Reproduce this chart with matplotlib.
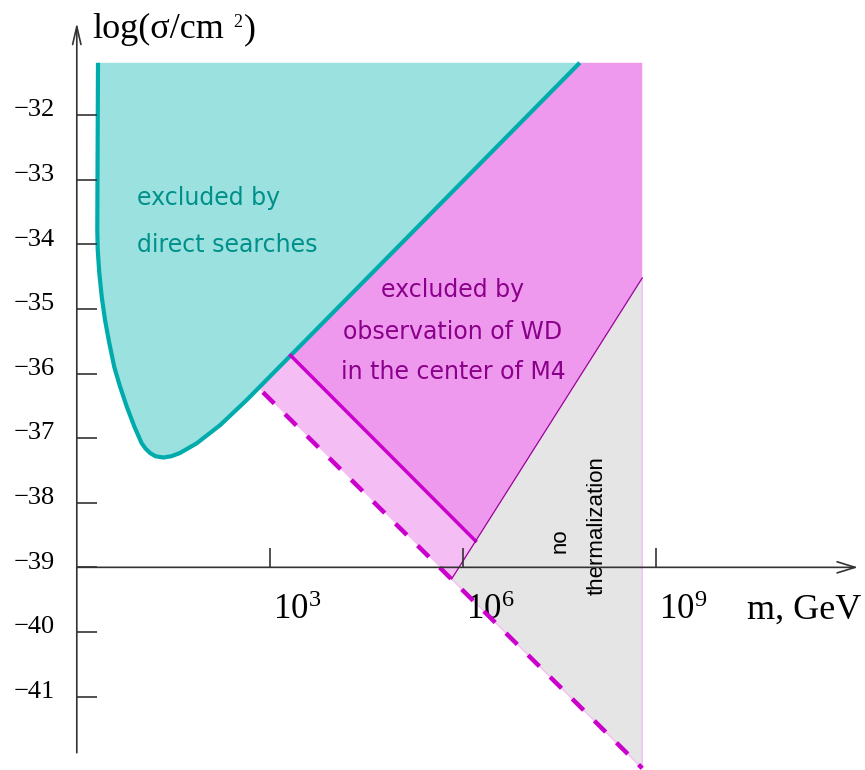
import matplotlib
matplotlib.use("Agg")
import matplotlib.pyplot as plt

# --- Data (log10 m in GeV, log10 sigma in cm^2) ---
# direct searches exclusion boundary
cyan_x = [0.329, 0.318, 0.325, 0.349, 0.387, 0.438, 0.505, 0.582, 0.671, 0.775,
          0.893, 1.008, 1.066, 1.137, 1.220, 1.343, 1.470, 1.602, 1.862, 2.224, 2.638, 7.81]
cyan_y = [-31.19, -33.78, -34.09, -34.44, -34.81, -35.17, -35.53, -35.90, -36.20, -36.51,
          -36.82, -37.08, -37.16, -37.23, -37.28, -37.30, -37.28, -37.23, -37.08, -36.80,
          -36.41, -31.19]

# white dwarf in M4 exclusion region
wd_x = [3.32, 7.81, 8.78, 8.78, 6.19]
wd_y = [-35.72, -31.19, -31.19, -34.52, -38.59]

# lighter band between solid and dashed limits
band_x = [2.82, 3.32, 6.19, 5.82]
band_y = [-36.22, -35.72, -38.59, -39.18]

# no thermalization region
therm_x = [8.78, 5.82, 8.78]
therm_y = [-34.52, -39.18, -42.11]

wd_line_x, wd_line_y = [3.32, 6.19], [-35.72, -38.59]
dash_x, dash_y = [2.89, 8.78], [-36.29, -42.11]
therm_line_x, therm_line_y = [8.78, 5.82], [-34.52, -39.18]

yticks = [-41, -40, -39, -38, -37, -36, -35, -34, -33, -32]
xticks = [3, 6, 9]
xtick_labels = ["10$^{3}$", "10$^{6}$", "10$^{9}$"]

# --- Plot ---
plt.rcParams["mathtext.fontset"] = "custom"
plt.rcParams["mathtext.rm"] = "Liberation Serif"
plt.rcParams["mathtext.it"] = "Liberation Serif:italic"
plt.rcParams["mathtext.bf"] = "Liberation Serif:bold"
serif = "Liberation Serif"

fig = plt.figure(figsize=(8.65, 7.70), dpi=100)
ax = fig.add_axes([0, 0, 1, 1])
ax.set_xlim(-1.1925, 12.239)
ax.set_ylim(-42.137, -30.218)
ax.axis("off")

ax.fill(band_x, band_y, color="#F4BEF4", lw=0, zorder=1)
ax.fill(wd_x, wd_y, color="#EE99EE", lw=0, zorder=1)
ax.fill(therm_x, therm_y, facecolor="#E5E5E5", edgecolor="#F4BEF4", lw=1, zorder=2)
ax.fill(cyan_x, cyan_y, color="#9BE1E0", lw=0, zorder=2)

ax.plot(cyan_x, cyan_y, color="#00ABAB", lw=3, zorder=4, solid_capstyle="butt",
        solid_joinstyle="round")
ax.plot(wd_line_x, wd_line_y, color="#CC00CC", lw=2.5, zorder=4)
ax.plot(therm_line_x, therm_line_y, color="#990099", lw=0.9, zorder=4)
ax.plot(dash_x, dash_y, color="#CC00CC", lw=3.2, ls=(0, (3.6, 3.4)), zorder=4)

# axes drawn by hand, with arrows
axc = "#333333"
ax.annotate("", xy=(0, -30.57), xytext=(0, -41.87), zorder=5,
            arrowprops=dict(arrowstyle="->,head_length=1.3,head_width=0.3",
                            lw=1.2, color=axc, shrinkA=0, shrinkB=0))
ax.annotate("", xy=(12.13, -39), xytext=(0, -39), zorder=5,
            arrowprops=dict(arrowstyle="->,head_length=1.3,head_width=0.4",
                            lw=1.2, color=axc, shrinkA=0, shrinkB=0))
ax.hlines(yticks, 0, 0.31, color=axc, lw=1.2, zorder=5)
ax.vlines(xticks, -39, -38.7, color=axc, lw=1.2, zorder=5)

for t in yticks:
    ax.text(-0.339, t - 0.02, f"\u2212{abs(t)}", ha="right", va="baseline",
            fontsize=19, family=serif)
for t, lab in zip(xticks, xtick_labels):
    ax.text(t + 0.047, -39.80, lab, ha="left", va="baseline",
            fontsize=25, family=serif)

# y axis title, superscript placed after the main part
ylab = ax.text(0.236, -30.806, "log(\u03c3/cm", ha="left", va="baseline",
               fontsize=26, family=serif)
sup = ax.annotate("2", xy=(1, -30.636), xycoords=(ylab, "data"), xytext=(9, 0),
                  textcoords="offset pixels", ha="left", va="baseline",
                  fontsize=13, family=serif)
ax.annotate(")", xy=(1, -30.806), xycoords=(sup, "data"), xytext=(2, 0),
            textcoords="offset pixels", ha="left", va="baseline",
            fontsize=26, family=serif)
ax.text(10.41, -39.80, "m, GeV", ha="left", va="baseline",
        fontsize=26, family=serif)

# region labels
ax.text(0.935, -33.391, "excluded by", color="#00908A", fontsize=17, va="baseline")
ax.text(0.935, -34.119, "direct searches", color="#00908A", fontsize=17, va="baseline")
for txt, yb in zip(["excluded by", "observation of WD", "in the center of M4"],
                   [-34.816, -35.466, -36.085]):
    ax.text(5.842, yb, txt, color="#8B008B", fontsize=17, ha="center", va="baseline")
ax.text(7.503, -38.593, "no", rotation=90, ha="center", va="center",
        fontsize=16, family="Liberation Sans")
ax.text(8.078, -38.36, "thermalization", rotation=90, ha="center", va="center",
        fontsize=16, family="Liberation Sans")

fig.savefig("out.png", dpi=100)
